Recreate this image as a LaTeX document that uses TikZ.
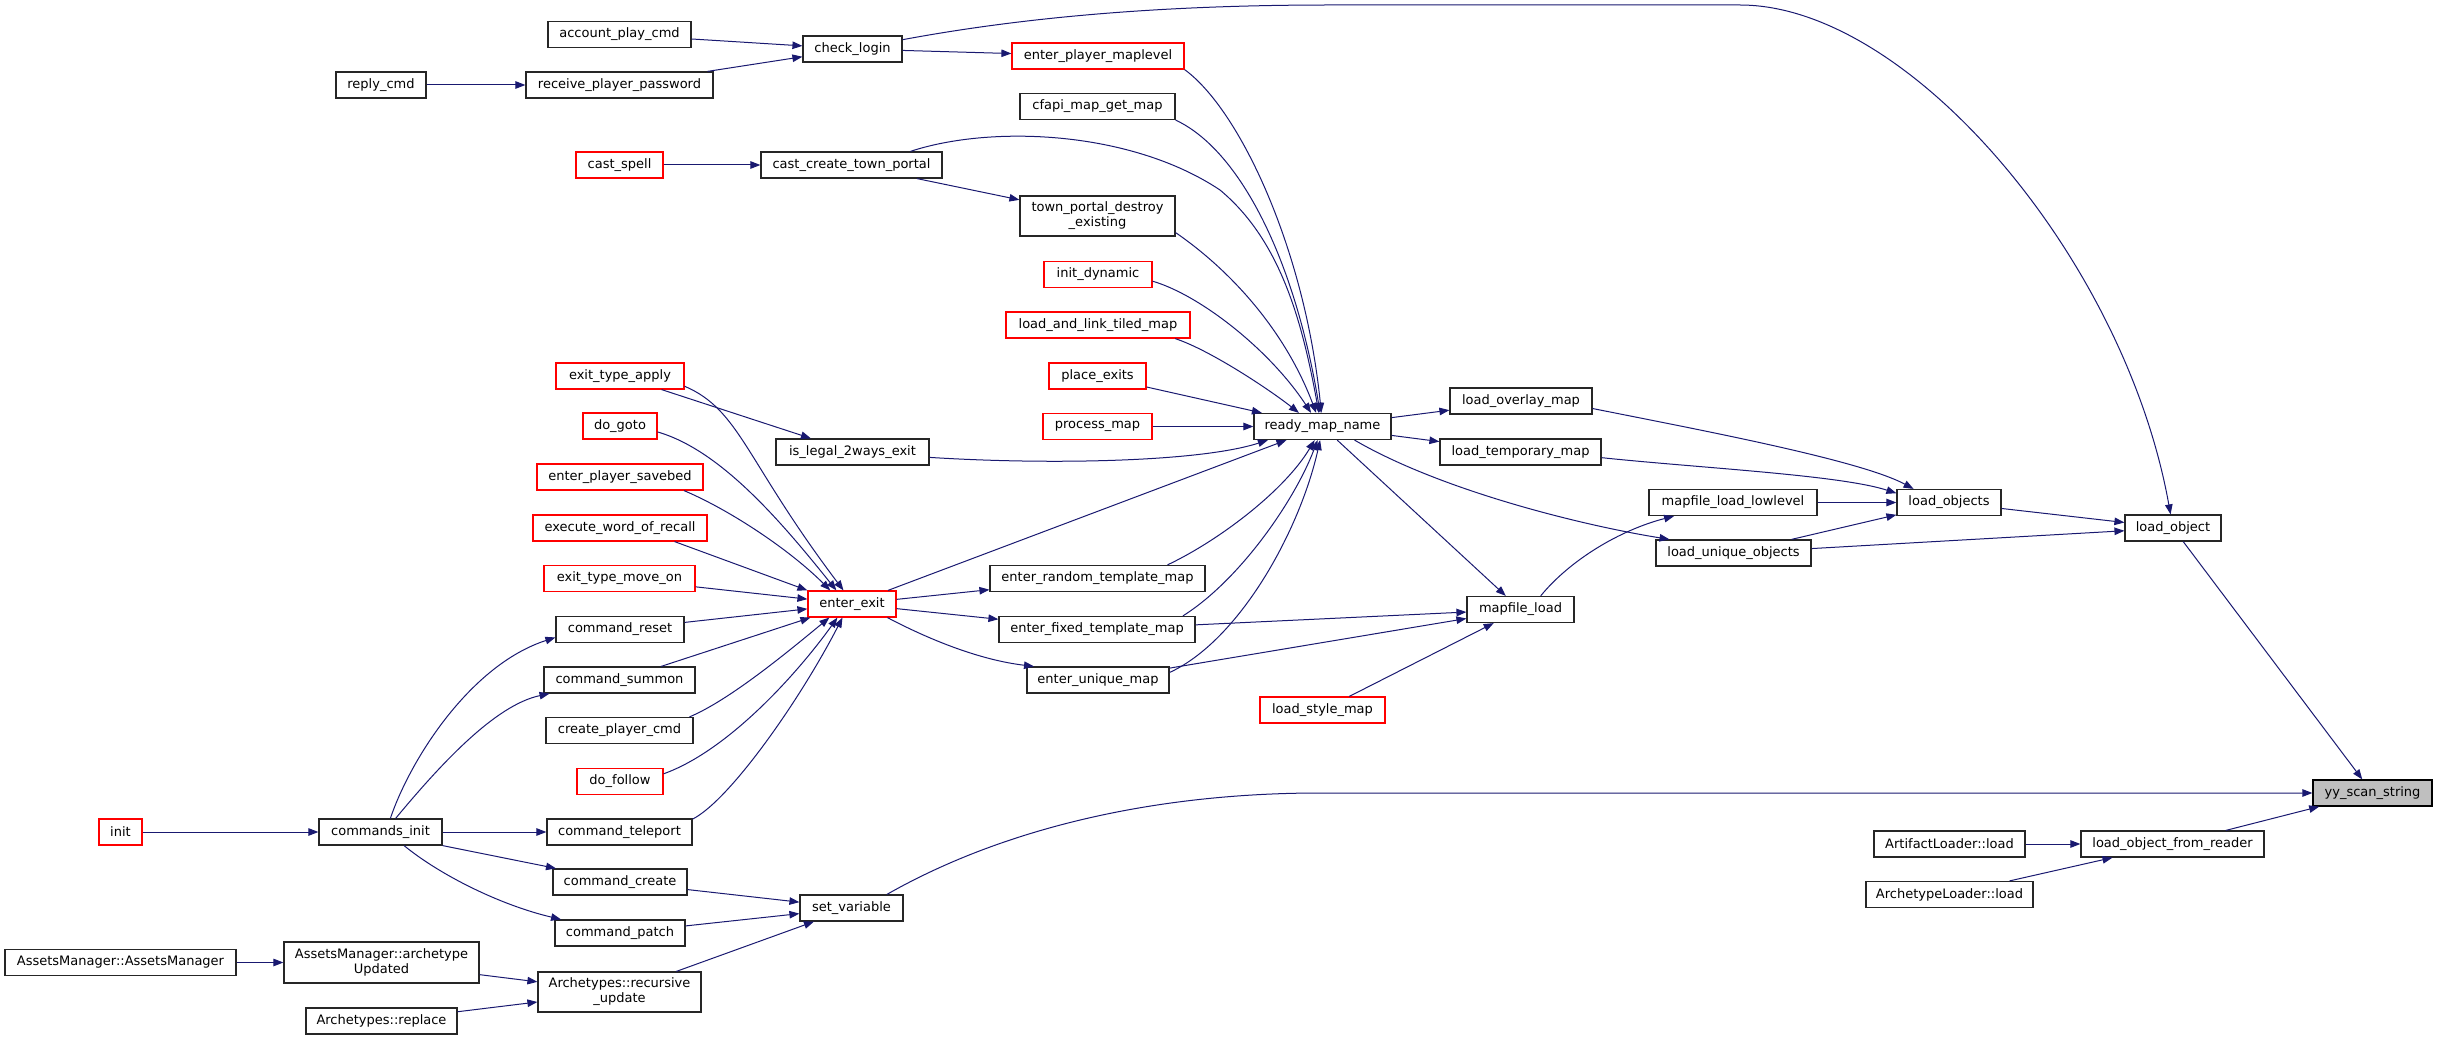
\documentclass[tikz,border=0pt]{standalone}
\usepackage{fontspec}
\setmainfont{DejaVu Sans}
\usetikzlibrary{arrows.meta}
\definecolor{navy}{HTML}{191970}
\definecolor{bxgray}{HTML}{262626}
\definecolor{bxred}{HTML}{FF0000}
\definecolor{focusfill}{HTML}{BFBFBF}
\tikzset{
  box/.style={draw=bxgray, fill=white, rectangle, inner sep=0pt, line width=1.2pt,
    minimum height=26pt, font=\fontsize{13}{15}\selectfont, align=center},
  rbox/.style={box, draw=bxred},
  fbox/.style={box, draw=black, fill=focusfill},
  lnk/.style={draw=navy, line width=1pt, -{Triangle[length=10pt,width=7.5pt]}},
}
\begin{document}
\begin{tikzpicture}[x=1pt,y=-1pt]
\useasboundingbox (0,0) rectangle (2437,1040);
% nodes
\node[box, minimum width=143pt] (apc) at (619.5,34.5) {account\_play\_cmd};
\node[box, minimum width=90pt] (rpc) at (381,85) {reply\_cmd};
\node[box, minimum width=187pt] (rpp) at (619.5,85) {receive\_player\_password};
\node[box, minimum width=99pt] (chl) at (852.5,49) {check\_login};
\node[rbox, minimum width=172pt] (epm) at (1098,56) {enter\_player\_maplevel};
\node[box, minimum width=155pt] (cfg) at (1097.5,106.5) {cfapi\_map\_get\_map};
\node[rbox, minimum width=87pt] (csp) at (619.5,165) {cast\_spell};
\node[box, minimum width=181pt] (ctp) at (851.5,165) {cast\_create\_town\_portal};
\node[box, minimum width=155pt, minimum height=40pt] (tpd) at (1097.5,216) {town\_portal\_destroy\\\_existing};
\node[rbox, minimum width=108pt] (ind) at (1098,274.5) {init\_dynamic};
\node[rbox, minimum width=184pt] (ltm) at (1098,325) {load\_and\_link\_tiled\_map};
\node[rbox, minimum width=97pt] (plx) at (1097.5,376) {place\_exits};
\node[rbox, minimum width=109pt] (pmp) at (1097.5,426.5) {process\_map};
\node[box, minimum width=137pt] (rmn) at (1322.5,426.5) {ready\_map\_name};
\node[rbox, minimum width=128pt] (eta) at (620,376) {exit\_type\_apply};
\node[rbox, minimum width=74pt] (dgt) at (620,426) {do\_goto};
\node[box, minimum width=153pt] (il2) at (852.5,452) {is\_legal\_2ways\_exit};
\node[rbox, minimum width=166pt] (eps) at (620,477) {enter\_player\_savebed};
\node[rbox, minimum width=174pt] (ewr) at (620,528) {execute\_word\_of\_recall};
\node[rbox, minimum width=151pt] (etm) at (619.5,578.5) {exit\_type\_move\_on};
\node[rbox, minimum width=88pt] (eex) at (852,604) {enter\_exit};
\node[box, minimum width=128pt] (crs) at (620,629.5) {command\_reset};
\node[box, minimum width=151pt] (csm) at (619.5,680) {command\_summon};
\node[box, minimum width=147pt] (cpc) at (619.5,730.5) {create\_player\_cmd};
\node[rbox, minimum width=86pt] (dfl) at (620,781.5) {do\_follow};
\node[box, minimum width=145pt] (ctl) at (619.5,832) {command\_teleport};
\node[rbox, minimum width=43pt] (ini) at (120.5,832) {init};
\node[box, minimum width=123pt] (cin) at (380.5,832) {commands\_init};
\node[box, minimum width=134pt] (ccr) at (620,882) {command\_create};
\node[box, minimum width=130pt] (cpt) at (620,933) {command\_patch};
\node[box, minimum width=231pt] (amm) at (120.5,962.5) {AssetsManager::AssetsManager};
\node[box, minimum width=195pt, minimum height=41pt] (amu) at (381.5,962.5) {AssetsManager::archetype\\Updated};
\node[box, minimum width=163pt, minimum height=40pt] (aru) at (619.5,992) {Archetypes::recursive\\\_update};
\node[box, minimum width=151pt] (arp) at (381.5,1021) {Archetypes::replace};
\node[box, minimum width=103pt] (sva) at (851.5,908) {set\_variable};
\node[box, minimum width=215pt] (ert) at (1097.5,578.5) {enter\_random\_template\_map};
\node[box, minimum width=196pt] (eft) at (1097,629.5) {enter\_fixed\_template\_map};
\node[box, minimum width=142pt] (eum) at (1098,680) {enter\_unique\_map};
\node[rbox, minimum width=125pt] (lsm) at (1322.5,710) {load\_style\_map};
\node[box, minimum width=107pt] (mfl) at (1520.5,609.5) {mapfile\_load};
\node[box, minimum width=142pt] (lom) at (1521,401) {load\_overlay\_map};
\node[box, minimum width=161pt] (ltp) at (1520.5,452) {load\_temporary\_map};
\node[box, minimum width=168pt] (mll) at (1733,502.5) {mapfile\_load\_lowlevel};
\node[box, minimum width=155pt] (luo) at (1733.5,553) {load\_unique\_objects};
\node[box, minimum width=104pt] (lob) at (1949,502.5) {load\_objects};
\node[box, minimum width=96pt] (lo1) at (2173,528) {load\_object};
\node[fbox, minimum width=119pt] (yys) at (2372.5,793) {yy\_scan\_string};
\node[box, minimum width=183pt] (lor) at (2172.5,844) {load\_object\_from\_reader};
\node[box, minimum width=151pt] (afl) at (1949.5,844) {ArtifactLoader::load};
\node[box, minimum width=167pt] (atl) at (1949.5,894.5) {ArchetypeLoader::load};
% edges: top-left group
\draw[lnk] (apc) -- (chl);
\draw[lnk] (rpp) -- (chl);
\draw[lnk] (rpc) -- (rpp);
\draw[lnk] (chl) -- (epm);
\draw[lnk] (chl) .. controls (1030,16) and (1170,5) .. (1330,5) -- (1740,5)
  .. controls (1910,5) and (2125,260) .. (lo1);
\draw[lnk] (csp) -- (ctp);
\draw[lnk] (ctp) -- (tpd);
% into ready_map_name from above
\draw[lnk] (epm.south east) .. controls (1240,110) and (1305,250) .. (rmn.95);
\draw[lnk] (cfg.south east) .. controls (1240,150) and (1295,260) .. (rmn.100);
\draw[lnk] (ctp.13) .. controls (990,125) and (1130,130) .. (1220,190)
  .. controls (1280,240) and (1302,320) .. (rmn.105);
\draw[lnk] (tpd.-12) .. controls (1230,270) and (1285,330) .. (rmn.115);
\draw[lnk] (ind.-7) .. controls (1200,295) and (1270,350) .. (rmn.130);
\draw[lnk] (ltm.-10) .. controls (1210,350) and (1270,390) .. (rmn.150);
\draw[lnk] (plx) -- (rmn);
\draw[lnk] (pmp) -- (rmn);
\draw[lnk] (il2.-4) .. controls (1050,465) and (1200,462) .. (rmn.194);
% enter_exit group
\draw[lnk] (eta) -- (il2);
\draw[lnk] (eta.-9) .. controls (740,410) and (745,460) .. (eex.122);
\draw[lnk] (dgt.-9) .. controls (720,450) and (780,520) .. (eex.139);
\draw[lnk] (eps.-12) .. controls (730,510) and (790,550) .. (eex.148);
\draw[lnk] (ewr.-14) -- (eex.north west);
\draw[lnk] (etm) -- (eex);
\draw[lnk] (crs) -- (eex);
\draw[lnk] (csm) -- (eex);
\draw[lnk] (cpc.11) .. controls (730,700) and (790,650) .. (eex.211);
\draw[lnk] (dfl.10) .. controls (730,750) and (800,670) .. (eex.223);
\draw[lnk] (ctl.10) .. controls (730,800) and (800,700) .. (eex.235);
\draw[lnk] (eex) -- (rmn);
\draw[lnk] (eex) -- (ert);
\draw[lnk] (eex) -- (eft);
\draw[lnk] (eex.-21) .. controls (930,640) and (980,660) .. (eum.168);
\draw[lnk] (ert.11) .. controls (1220,540) and (1285,490) .. (rmn.240);
\draw[lnk] (eft.9) .. controls (1240,580) and (1295,500) .. (rmn.250);
\draw[lnk] (eum.6) .. controls (1240,640) and (1300,530) .. (rmn.260);
\draw[lnk] (eft) -- (mfl);
\draw[lnk] (eum) -- (mfl);
\draw[lnk] (lsm) -- (mfl);
% right group
\draw[lnk] (rmn) -- (lom);
\draw[lnk] (rmn) -- (ltp);
\draw[lnk] (rmn.-23) .. controls (1440,490) and (1580,525) .. (luo.168);
\draw[lnk] (rmn) -- (mfl);
\draw[lnk] (mfl.34) .. controls (1570,560) and (1620,530) .. (mll.193);
\draw[lnk] (lom.-6) .. controls (1700,430) and (1860,460) .. (lob.159);
\draw[lnk] (ltp.-4) .. controls (1700,468) and (1840,475) .. (lob.170);
\draw[lnk] (mll) -- (lob);
\draw[lnk] (luo) -- (lob);
\draw[lnk] (luo) -- (lo1);
\draw[lnk] (lob) -- (lo1);
\draw[lnk] (lo1) -- (yys);
\draw[lnk] (lor) -- (yys);
\draw[lnk] (afl) -- (lor);
\draw[lnk] (atl) -- (lor);
% commands group
\draw[lnk] (ini) -- (cin);
\draw[lnk] (cin) -- (ctl);
\draw[lnk] (cin.54) .. controls (410,760) and (470,665) .. (crs.187);
\draw[lnk] (cin.42) .. controls (440,765) and (495,705) .. (csm.191);
\draw[lnk] (cin.south east) -- (ccr.168);
\draw[lnk] (cin.-30) .. controls (440,875) and (500,905) .. (cpt.167);
\draw[lnk] (ccr) -- (sva);
\draw[lnk] (cpt) -- (sva);
\draw[lnk] (aru) -- (sva);
\draw[lnk] (amm) -- (amu);
\draw[lnk] (amu) -- (aru);
\draw[lnk] (arp) -- (aru);
\draw[lnk] (sva.21) .. controls (1000,830) and (1150,793) .. (1320,793) -- (yys);
\end{tikzpicture}
\end{document}
